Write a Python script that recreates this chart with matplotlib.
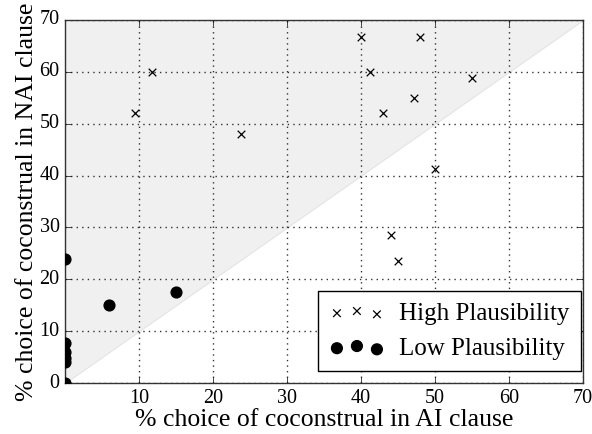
import numpy as np
import matplotlib.pyplot as plt

plt.style.use("classic")
plt.rcParams["font.family"] = ["Liberation Serif", "DejaVu Serif"]

# ------------ data -----------------------------------------------------
high_ai = [9.5, 11.8, 23.8, 40.0, 48.0, 41.2, 42.9, 47.1, 55.0, 50.0, 44.0, 45.0]
high_nai = [52.0, 60.0, 48.0, 66.7, 66.7, 60.0, 52.0, 55.0, 58.8, 41.2, 28.6, 23.5]

low_ai = [0.0, 5.9, 15.0, 0.0, 0.0, 0.0, 0.0, 0.0]
low_nai = [24.0, 15.0, 17.6, 7.8, 5.9, 4.8, 4.0, 0.0]

xticks = [10, 20, 30, 40, 50, 60, 70]
yticks = [0, 10, 20, 30, 40, 50, 60, 70]

# ------------ plot -----------------------------------------------------
fig = plt.figure(figsize=(5.92, 4.34), dpi=100, facecolor="white")
ax = fig.add_axes([0.110, 0.1175, 0.875, 0.8365])

diag = np.array([0, 70])
ax.fill_between(diag, diag, 70, facecolor="#f0f0f0", edgecolor="#e4e4e4",
                linewidth=0.8, zorder=0)

ax.scatter(high_ai, high_nai, marker="x", s=30, c="black", linewidths=0.9,
           label="High Plausibility", zorder=3)
ax.scatter(low_ai, low_nai, marker="o", s=60, c="black", edgecolors="black",
           label="Low Plausibility", zorder=3)

ax.set_xlim(0, 70)
ax.set_ylim(0, 70)
ax.set_xticks(xticks)
ax.set_yticks(yticks)
ax.tick_params(labelsize=14.5, direction="in", length=4, top=True, right=True)
ax.grid(True, linestyle=":", color="#333333", linewidth=1)
ax.set_axisbelow(True)
for sp in ax.spines.values():
    sp.set_color("#333333")

ax.set_xlabel("% choice of coconstrual in AI clause", fontsize=18.5, labelpad=1)
ax.set_ylabel("% choice of coconstrual in NAI clause", fontsize=18.5, labelpad=1)

leg = ax.legend(loc="lower right", bbox_to_anchor=(0.996, 0.033),
                borderaxespad=0, scatterpoints=3, fontsize=18,
                fancybox=False, frameon=True, borderpad=0.45,
                handletextpad=0.6, labelspacing=0.5, handlelength=2.2)
leg.get_frame().set_edgecolor("black")

fig.savefig("out.png", dpi=100, facecolor="white")
